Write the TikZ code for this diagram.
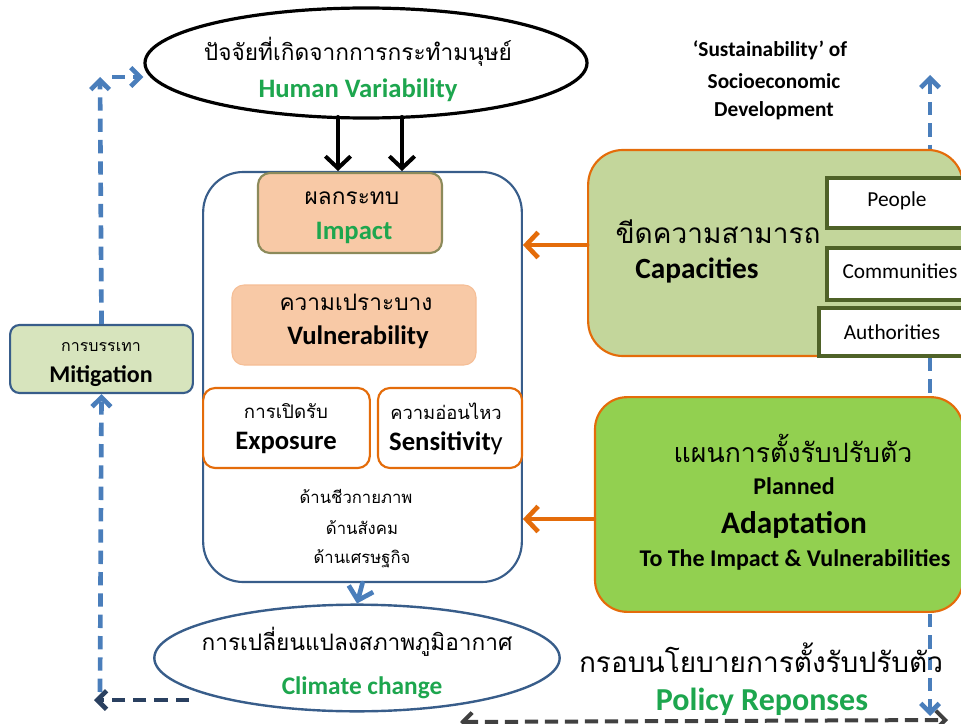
\documentclass[tikz,border=0pt]{standalone}
\usepackage{fontspec}
\setmainfont{Carlito}
\newfontfamily\thai[Script=Thai]{Loma}
\usetikzlibrary{arrows.meta,shapes.geometric}
\definecolor{hgreen}{HTML}{1DA64E}
\definecolor{dkblue}{HTML}{385D8A}
\definecolor{ltblue}{HTML}{4A7EBB}
\definecolor{navy}{HTML}{2A4060}
\definecolor{orng}{HTML}{E46C0A}
\definecolor{peach}{HTML}{F8C9A6}
\definecolor{peachb}{HTML}{F5BE96}
\definecolor{olivb}{HTML}{8C8A5A}
\definecolor{capfill}{HTML}{C3D69B}
\definecolor{adfill}{HTML}{92D050}
\definecolor{mitfill}{HTML}{D7E4BD}
\definecolor{dkolive}{HTML}{4F6228}
\definecolor{dkgray}{HTML}{404040}
\tikzset{
  txt/.style={inner sep=0pt, anchor=center},
  thaitxt/.style={txt, font=\thai\fontsize{#1}{#1}\selectfont},
  engb/.style={txt, font=\bfseries\fontsize{#1}{#1}\selectfont},
  engr/.style={txt, font=\fontsize{#1}{#1}\selectfont},
  chev/.style={-{Straight Barb[length=7pt,width=14pt,line width=#1]}, line width=#1, line cap=round},
  bigchev/.style={-{Straight Barb[length=9pt,width=19pt,line width=#1]}, line width=#1, line cap=round},
  bluedash/.style={chev=3.5pt, draw=ltblue, dash pattern=on 10pt off 6pt, line cap=butt},
  subbox/.style={draw=dkolive, line width=2.6pt, fill=white, inner sep=0pt},
}
\begin{document}
\begin{tikzpicture}[x=0.75pt,y=-0.75pt]
\useasboundingbox (0,0) rectangle (961,724);

% right vertical dashed line (behind boxes)
\coordinate (rtop) at (930,75);
\coordinate (rbot) at (930,716);
\draw[bluedash, {Straight Barb[length=7pt,width=14pt,line width=3.5pt]}-{Straight Barb[length=7pt,width=14pt,line width=3.5pt]}] (rtop) -- (rbot);

% top ellipse
\node[ellipse, draw=black, line width=2.4pt, minimum width=331.5pt, minimum height=82.5pt, fill=white] (human) at (366,63) {};
\node[thaitxt=17pt] (humanth) at (358,52) {ปัจจัยที่เกิดจากการกระทำมนุษย์};
\node[engb=20pt, text=hgreen] (humanen) at (358,90) {Human Variability};

% big box
\node[draw=dkblue, line width=1.6pt, rounded corners=30pt, minimum width=239pt, minimum height=307.5pt, fill=white] (big) at (362.5,377) {};

% impact
\node[draw=olivb, line width=1.6pt, fill=peach, rounded corners=9pt, minimum width=138pt, minimum height=60pt] (impact) at (350,213) {};
\node[thaitxt=17pt] (impactth) at (352,198) {ผลกระทบ};
\node[engb=20pt, text=hgreen] (impacten) at (354,233) {Impact};

% vulnerability
\node[draw=peachb, line width=0.8pt, fill=peach, rounded corners=9pt, minimum width=183pt, minimum height=60pt] (vul) at (354,325) {};
\node[thaitxt=17pt] (vulth) at (356,302) {ความเปราะบาง};
\node[engb=20pt] (vulen) at (358,337) {Vulnerability};

% exposure & sensitivity
\node[draw=orng, line width=1.6pt, fill=white, rounded corners=9pt, minimum width=125pt, minimum height=60pt] (expo) at (286.5,428) {};
\node[thaitxt=14pt] (expoth) at (286,411) {การเปิดรับ};
\node[engb=20pt] (expoen) at (286,443) {Exposure};
\node[draw=orng, line width=1.6pt, fill=white, rounded corners=9pt, minimum width=108pt, minimum height=60pt] (sens) at (450,428) {};
\node[thaitxt=13.8pt] (sensth) at (446,411) {ความอ่อนไหว};
\node[engb=20pt] (sensen) at (446,443) {Sensitivit\mdseries y};

% domains
\node[thaitxt=12.5pt] (d1) at (356,496) {ด้านชีวกายภาพ};
\node[thaitxt=12.5pt] (d2) at (362,528) {ด้านสังคม};
\node[thaitxt=12.5pt] (d3) at (362,559) {ด้านเศรษฐกิจ};

% climate ellipse
\node[ellipse, draw=dkblue, line width=1.8pt, minimum width=304pt, minimum height=80pt, fill=white] (clim) at (357,658) {};
\node[thaitxt=17pt] (climth) at (357,642) {การเปลี่ยนแปลงสภาพภูมิอากาศ};
\node[engb=19pt, text=hgreen] (climen) at (362,688) {Climate change};

% mitigation
\node[draw=dkblue, line width=1.6pt, fill=mitfill, rounded corners=7pt, minimum width=137pt, minimum height=51pt] (mit) at (101.5,359) {};
\node[thaitxt=12pt] (mitth) at (101,347) {การบรรเทา};
\node[engb=18pt] (miten) at (101,376) {Mitigation};

% capacities
\node[draw=orng, line width=1.6pt, fill=capfill, rounded corners=26pt, minimum width=281pt, minimum height=154.5pt] (cap) at (775.5,253) {};
\node[thaitxt=21pt] (capth) at (718,232) {ขีดความสามารถ};
\node[engb=22pt] (capen) at (697,270) {Capacities};
\node[subbox, minimum width=103.5pt, minimum height=37.5pt] (people) at (896,203) {};
\node[engr=16pt] (peoplet) at (897,201) {People};
\node[subbox, minimum width=103.5pt, minimum height=39pt] (comm) at (896,274) {};
\node[engr=16pt] (commt) at (900,271) {Communities};
\node[subbox, minimum width=109.5pt, minimum height=36pt] (auth) at (892,332) {};
\node[engr=16pt] (autht) at (892,332) {Authorities};

% adaptation
\node[draw=orng, line width=1.6pt, fill=adfill, rounded corners=24pt, minimum width=276pt, minimum height=161pt] (adapt) at (779,504.5) {};
\node[thaitxt=20pt] (adth) at (793,448) {แผนการตั้งรับปรับตัว};
\node[engb=18pt] (ad1) at (794,486) {Planned};
\node[engb=23.5pt] (ad2) at (794,525) {Adaptation};
\node[engb=18pt] (ad3) at (795,560) {To The Impact \& Vulnerabilities};

% sustainability
\node[engb=16pt] (s1) at (770,50) {‘Sustainability’ of};
\node[engb=16pt] (s2) at (774,81) {Socioeconomic};
\node[engb=16pt] (s3) at (774,111) {Development};

% policy responses
\node[thaitxt=21pt] (polth) at (761,658) {กรอบนโยบายการตั้งรับปรับตัว};
\node[engb=24pt, text=hgreen] (polen) at (762,702) {Policy Reponses};

% black arrows
\draw[bigchev=3pt] (338,117) -- (338,171);
\draw[bigchev=3pt] (402,117) -- (402,171);

% blue solid arrow big -> climate
\draw[bigchev=3.5pt, draw=ltblue] (big.south) -- (clim.north);

% orange arrows
\draw[bigchev=3.5pt, draw=orng] (cap.west |- 0,245) -- (big.east |- 0,245);
\draw[bigchev=3.5pt, draw=orng] (adapt.west |- 0,519) -- (big.east |- 0,519);

% left dashed loop
\coordinate (lc) at (100,77);
\coordinate (lb) at (94,700);
\draw[bluedash] (mit.north) -- (lc);
\draw[bluedash] (112,77) -- (human.west |- 0,77);
\draw[bluedash, draw=navy] (clim.west |- 0,700) ++(36,0) -- (lb);
\draw[bluedash] (100,692) -- (mit.south);

% bottom double arrow
\coordinate (bl) at (460,722);
\coordinate (br) at (948,720);
\draw[draw=dkgray, line width=3pt, dash pattern=on 10pt off 5pt,
  {Straight Barb[length=7pt,width=14pt,line width=3pt]}-{Straight Barb[length=7pt,width=14pt,line width=3pt]}] (bl) -- (br);
\end{tikzpicture}
\end{document}
